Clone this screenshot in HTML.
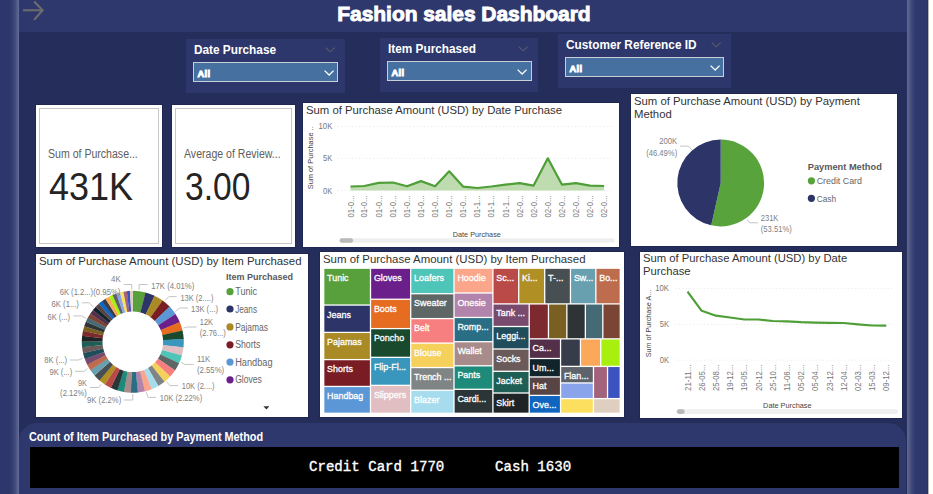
<!DOCTYPE html>
<html><head><meta charset="utf-8">
<style>
*{margin:0;padding:0;box-sizing:border-box}
html,body{width:933px;height:494px;overflow:hidden}
body{background:#252d5b;position:relative;font-family:"Liberation Sans",sans-serif}
.a{position:absolute}
.t{position:absolute;white-space:pre;line-height:1;transform-origin:0 0}
#lstrip{left:0;top:0;width:19px;height:494px;background:linear-gradient(90deg,#2d376b 0,#2d376b 9px,#343e71 12px,#414a7a 15px,#5b6491 18px,#66709a 19px)}
#rstrip{left:907px;top:0;width:21px;height:494px;background:linear-gradient(90deg,#5e6792 0,#58618e 1.5px,#4a5381 3px,#3e477a 5px,#343e71 7px,#2f396c 9px,#2e386c 11px,#2e386c 20.3px,#20275a 20.8px)}
#wstrip{left:928px;top:0;width:5px;height:494px;background:linear-gradient(90deg,#a9a79f 0,#c9c7bf 1px,#fff 1.5px)}
#header{left:19px;top:0;width:888px;height:32px;background:#2e386d}
.slicer{background:#2e376b}
.slt{color:#fff;font-weight:700;font-size:13px;transform:scaleX(.908)}
.dd{background:#46709f;border:1.5px solid #c9cfd8}
.dd span{position:absolute;left:3.5px;top:5.6px;color:#fff;font-weight:700;font-size:9.3px;letter-spacing:0.3px;-webkit-text-stroke:0.9px #fff;font-family:"Liberation Sans",sans-serif}
.card{background:#fff;box-shadow:0 0 0 1px rgba(18,22,64,.3)}
.vt{color:#333;font-size:11.5px;transform:scaleX(.98)}
#bottom{left:19px;top:423px;width:887px;height:80px;background:#2e386d;border-radius:18px 18px 0 0}
#blk{left:29.5px;top:446.5px;width:869px;height:41px;background:#000}
.ax{font-family:"Liberation Sans",sans-serif;font-size:8.5px;fill:#777}
.dl{font-family:"Liberation Sans",sans-serif;font-size:8.5px;fill:#808080}
.lg{font-family:"Liberation Sans",sans-serif;font-size:9px;fill:#666}
.lgt{font-family:"Liberation Sans",sans-serif;font-size:9px;font-weight:700;fill:#595959}
.lg2{font-family:"Liberation Sans",sans-serif;font-size:10px;fill:#666}
.tm{font-family:"Liberation Sans",sans-serif;font-size:9.5px;fill:#fff;stroke:#fff;stroke-width:0.3px}
.axt{font-family:"Liberation Sans",sans-serif;font-size:8px;fill:#444}
</style></head><body>
<div id="lstrip" class="a"></div>
<div id="header" class="a"></div>
<div id="rstrip" class="a"></div>
<div id="wstrip" class="a"></div>

<svg class="a" style="left:22px;top:0" width="24" height="24" viewBox="0 0 24 24"><path d="M1 10.2H20.4M12.1 1.6L20.6 10.2L12.1 19.9" fill="none" stroke="#6c6c6c" stroke-width="2.1"/></svg>

<div class="t" style="left:337.3px;top:3px;color:#fff;font-weight:700;font-size:21px;-webkit-text-stroke:0.9px #fff;letter-spacing:-0.05px">Fashion sales Dashboard</div>

<!-- slicers -->
<div class="a slicer" style="left:186px;top:39px;width:159px;height:54px"></div>
<div class="t slt" style="left:194.4px;top:43px">Date Purchase</div>
<div class="a dd" style="left:193px;top:62px;width:145px;height:20px"><span>All</span></div>

<div class="a slicer" style="left:380px;top:38px;width:158px;height:54px"></div>
<div class="t slt" style="left:388.2px;top:42px">Item Purchased</div>
<div class="a dd" style="left:387px;top:61px;width:145px;height:20px"><span>All</span></div>

<div class="a slicer" style="left:558px;top:34px;width:173px;height:54px"></div>
<div class="t slt" style="left:566.4px;top:37.9px">Customer Reference ID</div>
<div class="a dd" style="left:565px;top:57px;width:159px;height:20px"><span>All</span></div>

<svg class="a" style="left:325px;top:46.5px" width="11" height="7" viewBox="0 0 11 7"><path d="M0.7 0.7L5.2 4.8L9.7 0.7" fill="none" stroke="#5b5b6c" stroke-width="1.1"/></svg>
<svg class="a" style="left:323.9px;top:69.7px" width="11" height="7" viewBox="0 0 11 7"><path d="M0.6 0.6L5.1 5L9.6 0.6" fill="none" stroke="#ffffff" stroke-width="1.3"/></svg>
<svg class="a" style="left:518px;top:46px" width="11" height="7" viewBox="0 0 11 7"><path d="M0.7 0.7L5.2 4.8L9.7 0.7" fill="none" stroke="#5b5b6c" stroke-width="1.1"/></svg>
<svg class="a" style="left:517.1px;top:69.0px" width="11" height="7" viewBox="0 0 11 7"><path d="M0.6 0.6L5.1 5L9.6 0.6" fill="none" stroke="#ffffff" stroke-width="1.3"/></svg>
<svg class="a" style="left:711.3px;top:41.8px" width="11" height="7" viewBox="0 0 11 7"><path d="M0.7 0.7L5.2 4.8L9.7 0.7" fill="none" stroke="#5b5b6c" stroke-width="1.1"/></svg>
<svg class="a" style="left:709.8px;top:65.1px" width="11" height="7" viewBox="0 0 11 7"><path d="M0.6 0.6L5.1 5L9.6 0.6" fill="none" stroke="#ffffff" stroke-width="1.3"/></svg>
<!-- KPI cards -->
<div class="a card" style="left:36px;top:105px;width:126px;height:142px"><div class="a" style="left:3.4px;top:3.4px;right:3.4px;bottom:3.4px;border:1px solid #c6c6c6"></div></div>
<div class="a card" style="left:172px;top:105px;width:123px;height:142px"><div class="a" style="left:3.4px;top:3.4px;right:3.4px;bottom:3.4px;border:1px solid #c6c6c6"></div></div>
<div class="t" style="left:48px;top:147.5px;color:#605e5c;font-size:12px;transform:scaleX(.88)">Sum of Purchase...</div>
<div class="t" style="left:184px;top:147.5px;color:#605e5c;font-size:12px;transform:scaleX(.88)">Average of Review...</div>
<div class="t" style="left:48.5px;top:167px;color:#252423;font-size:39.5px;transform:scaleX(.91)">431K</div>
<div class="t" style="left:184.5px;top:167px;color:#252423;font-size:39.5px;transform:scaleX(.85)">3.00</div>

<!-- line chart -->
<div class="a card" style="left:303px;top:102.7px;width:316px;height:144px"></div>
<div class="t vt" style="left:306.2px;top:104.8px;transform:scaleX(.984)">Sum of Purchase Amount (USD) by Date Purchase</div>

<!-- pie -->
<div class="a card" style="left:630.8px;top:93.8px;width:266.3px;height:152px"></div>
<div class="t vt" style="left:633.7px;top:94.6px;line-height:12.9px;transform:scaleX(.984)">Sum of Purchase Amount (USD) by Payment
Method</div>

<!-- donut -->
<div class="a card" style="left:35.7px;top:253.8px;width:272.4px;height:163px"></div>
<div class="t vt" style="left:38.7px;top:255.9px;transform:scaleX(.992)">Sum of Purchase Amount (USD) by Item Purchased</div>

<!-- treemap -->
<div class="a card" style="left:319.9px;top:252.1px;width:304.2px;height:165px"></div>
<div class="t vt" style="left:322.5px;top:253.7px;transform:scaleX(.992)">Sum of Purchase Amount (USD) by Item Purchased</div>

<!-- line 2 -->
<div class="a card" style="left:639.8px;top:252.1px;width:262.2px;height:165.6px"></div>
<div class="t vt" style="left:642.5px;top:252.4px;line-height:12.9px">Sum of Purchase Amount (USD) by Date
Purchase</div>

<svg class="a" style="left:0;top:0" width="933" height="494" viewBox="0 0 933 494">
<g id="lc1">
<line x1="337.5" y1="126.5" x2="614" y2="126.5" stroke="#e2e2e2" stroke-width="0.8" stroke-dasharray="1 2.6"/>
<line x1="337.5" y1="158.3" x2="614" y2="158.3" stroke="#e2e2e2" stroke-width="0.8" stroke-dasharray="1 2.6"/>
<line x1="337.5" y1="190.6" x2="614" y2="190.6" stroke="#e2e2e2" stroke-width="0.8" stroke-dasharray="1 2.6"/>
<polygon points="350.5,190.5 350.5,186.5 364.3,186.0 378.7,182.9 393.0,182.5 407.0,186.3 421.0,181.1 435.1,186.3 449.2,171.3 463.3,186.7 477.3,188.0 491.3,186.5 505.5,184.6 519.6,183.1 533.6,185.6 547.8,158.3 561.9,184.6 575.9,183.1 590.0,185.6 604.1,186.0 604.1,190.5" fill="#bfdcb0"/>
<polyline points="350.5,186.5 364.3,186.0 378.7,182.9 393.0,182.5 407.0,186.3 421.0,181.1 435.1,186.3 449.2,171.3 463.3,186.7 477.3,188.0 491.3,186.5 505.5,184.6 519.6,183.1 533.6,185.6 547.8,158.3 561.9,184.6 575.9,183.1 590.0,185.6 604.1,186.0" fill="none" stroke="#4e9f37" stroke-width="2.2" stroke-linejoin="round"/>
<text x="332.3" y="129.2" text-anchor="end" class="ax" textLength="13.8" lengthAdjust="spacingAndGlyphs">10K</text>
<text x="332.3" y="161.3" text-anchor="end" class="ax" textLength="9.2" lengthAdjust="spacingAndGlyphs">5K</text>
<text x="332.3" y="194.2" text-anchor="end" class="ax" textLength="9.2" lengthAdjust="spacingAndGlyphs">0K</text>
<text transform="translate(313,189.3) rotate(-90)" class="axt" textLength="63" lengthAdjust="spacingAndGlyphs">Sum of Purchase ..</text>
<text transform="translate(353.6,217.6) rotate(-90)" class="ax" textLength="22.2" lengthAdjust="spacingAndGlyphs">01-0...</text>
<text transform="translate(367.4,217.6) rotate(-90)" class="ax" textLength="22.2" lengthAdjust="spacingAndGlyphs">01-0...</text>
<text transform="translate(381.8,217.6) rotate(-90)" class="ax" textLength="22.2" lengthAdjust="spacingAndGlyphs">01-0...</text>
<text transform="translate(396.1,217.6) rotate(-90)" class="ax" textLength="22.2" lengthAdjust="spacingAndGlyphs">01-0...</text>
<text transform="translate(410.1,217.6) rotate(-90)" class="ax" textLength="22.2" lengthAdjust="spacingAndGlyphs">01-0...</text>
<text transform="translate(424.1,217.6) rotate(-90)" class="ax" textLength="22.2" lengthAdjust="spacingAndGlyphs">01-0...</text>
<text transform="translate(438.2,217.6) rotate(-90)" class="ax" textLength="22.2" lengthAdjust="spacingAndGlyphs">01-0...</text>
<text transform="translate(452.3,217.6) rotate(-90)" class="ax" textLength="22.2" lengthAdjust="spacingAndGlyphs">01-0...</text>
<text transform="translate(466.4,217.6) rotate(-90)" class="ax" textLength="22.2" lengthAdjust="spacingAndGlyphs">01-0...</text>
<text transform="translate(480.4,217.6) rotate(-90)" class="ax" textLength="22.2" lengthAdjust="spacingAndGlyphs">01-1...</text>
<text transform="translate(494.4,217.6) rotate(-90)" class="ax" textLength="22.2" lengthAdjust="spacingAndGlyphs">01-1...</text>
<text transform="translate(508.6,217.6) rotate(-90)" class="ax" textLength="22.2" lengthAdjust="spacingAndGlyphs">01-1...</text>
<text transform="translate(522.7,217.6) rotate(-90)" class="ax" textLength="22.2" lengthAdjust="spacingAndGlyphs">02-0...</text>
<text transform="translate(536.7,217.6) rotate(-90)" class="ax" textLength="22.2" lengthAdjust="spacingAndGlyphs">02-0...</text>
<text transform="translate(550.9,217.6) rotate(-90)" class="ax" textLength="22.2" lengthAdjust="spacingAndGlyphs">02-0...</text>
<text transform="translate(565.0,217.6) rotate(-90)" class="ax" textLength="22.2" lengthAdjust="spacingAndGlyphs">02-0...</text>
<text transform="translate(579.0,217.6) rotate(-90)" class="ax" textLength="22.2" lengthAdjust="spacingAndGlyphs">02-0...</text>
<text transform="translate(593.1,217.6) rotate(-90)" class="ax" textLength="22.2" lengthAdjust="spacingAndGlyphs">02-0...</text>
<text transform="translate(607.2,217.6) rotate(-90)" class="ax" textLength="22.2" lengthAdjust="spacingAndGlyphs">02-0...</text>
<text x="452.8" y="236.5" class="axt" textLength="48" lengthAdjust="spacingAndGlyphs">Date Purchase</text>
<rect x="339.6" y="238.3" width="275.2" height="4.4" rx="2.2" fill="#efefef"/>
<rect x="339.6" y="238.3" width="13.5" height="4.4" rx="2.2" fill="#b9b9b9"/>
</g>
<g id="lc2">
<line x1="675.3" y1="288.4" x2="893" y2="288.4" stroke="#e2e2e2" stroke-width="0.8" stroke-dasharray="1 2.6"/>
<line x1="675.3" y1="324.4" x2="893" y2="324.4" stroke="#e2e2e2" stroke-width="0.8" stroke-dasharray="1 2.6"/>
<line x1="675.3" y1="360.2" x2="893" y2="360.2" stroke="#e2e2e2" stroke-width="0.8" stroke-dasharray="1 2.6"/>
<polyline points="687.5,291.7 701.7,310.8 715.9,315.7 730.1,317.5 744.3,319.5 758.5,319.5 772.7,321 786.9,321.3 801.1,322.2 815.3,322.6 829.5,322.8 843.7,323 857.9,324.3 872.1,325.5 886.3,325.7" fill="none" stroke="#4e9f37" stroke-width="2.2" stroke-linejoin="round"/>
<text x="669" y="291.2" text-anchor="end" class="ax" textLength="13.8" lengthAdjust="spacingAndGlyphs">10K</text>
<text x="669" y="327.3" text-anchor="end" class="ax" textLength="9.2" lengthAdjust="spacingAndGlyphs">5K</text>
<text x="669" y="363.3" text-anchor="end" class="ax" textLength="9.2" lengthAdjust="spacingAndGlyphs">0K</text>
<text transform="translate(650.5,357.3) rotate(-90)" class="axt" textLength="67.5" lengthAdjust="spacingAndGlyphs">Sum of Purchase A...</text>
<text transform="translate(690.6,391) rotate(-90)" class="ax" textLength="26.4" lengthAdjust="spacingAndGlyphs">21-11...</text>
<text transform="translate(704.8,391) rotate(-90)" class="ax" textLength="26.4" lengthAdjust="spacingAndGlyphs">26-05...</text>
<text transform="translate(719.0,391) rotate(-90)" class="ax" textLength="26.4" lengthAdjust="spacingAndGlyphs">25-08...</text>
<text transform="translate(733.2,391) rotate(-90)" class="ax" textLength="26.4" lengthAdjust="spacingAndGlyphs">19-12...</text>
<text transform="translate(747.4,391) rotate(-90)" class="ax" textLength="26.4" lengthAdjust="spacingAndGlyphs">19-05...</text>
<text transform="translate(761.6,391) rotate(-90)" class="ax" textLength="26.4" lengthAdjust="spacingAndGlyphs">20-12...</text>
<text transform="translate(775.8,391) rotate(-90)" class="ax" textLength="26.4" lengthAdjust="spacingAndGlyphs">25-10...</text>
<text transform="translate(790.0,391) rotate(-90)" class="ax" textLength="26.4" lengthAdjust="spacingAndGlyphs">11-06...</text>
<text transform="translate(804.2,391) rotate(-90)" class="ax" textLength="26.4" lengthAdjust="spacingAndGlyphs">05-02...</text>
<text transform="translate(818.4,391) rotate(-90)" class="ax" textLength="26.4" lengthAdjust="spacingAndGlyphs">05-04...</text>
<text transform="translate(832.6,391) rotate(-90)" class="ax" textLength="26.4" lengthAdjust="spacingAndGlyphs">23-12...</text>
<text transform="translate(846.8,391) rotate(-90)" class="ax" textLength="26.4" lengthAdjust="spacingAndGlyphs">12-04...</text>
<text transform="translate(861.0,391) rotate(-90)" class="ax" textLength="26.4" lengthAdjust="spacingAndGlyphs">02-03...</text>
<text transform="translate(875.2,391) rotate(-90)" class="ax" textLength="26.4" lengthAdjust="spacingAndGlyphs">15-03...</text>
<text transform="translate(889.4,391) rotate(-90)" class="ax" textLength="26.4" lengthAdjust="spacingAndGlyphs">09-12...</text>
<text x="763.1" y="408" class="axt" textLength="48.4" lengthAdjust="spacingAndGlyphs">Date Purchase</text>
<rect x="676.7" y="409.3" width="221.3" height="4.6" rx="2.3" fill="#efefef"/>
<rect x="676.7" y="409.3" width="8" height="4.6" rx="2.3" fill="#b9b9b9"/>
</g>
<g id="donut">
<path d="M132.80,290.80A51,51 0 0 1 145.70,292.46L140.47,312.49A30.3,30.3 0 0 0 132.80,311.50Z" fill="#58a03b"/>
<path d="M145.51,292.41A51,51 0 0 1 154.65,295.72L145.78,314.42A30.3,30.3 0 0 0 140.35,312.46Z" fill="#2c3468"/>
<path d="M154.46,295.63A51,51 0 0 1 162.78,300.55L150.61,317.29A30.3,30.3 0 0 0 145.67,314.37Z" fill="#a98a25"/>
<path d="M162.62,300.43A51,51 0 0 1 169.81,306.71L154.79,320.95A30.3,30.3 0 0 0 150.52,317.22Z" fill="#7a1c24"/>
<path d="M169.67,306.56A51,51 0 0 1 175.59,314.05L158.22,325.31A30.3,30.3 0 0 0 154.70,320.86Z" fill="#5b97d6"/>
<path d="M175.48,313.88A51,51 0 0 1 179.91,322.26L160.79,330.19A30.3,30.3 0 0 0 158.16,325.21Z" fill="#6a1f8a"/>
<path d="M179.83,322.07A51,51 0 0 1 182.56,330.63L162.36,335.16A30.3,30.3 0 0 0 160.74,330.08Z" fill="#e66c21"/>
<path d="M182.52,330.43A51,51 0 0 1 183.73,339.14L163.06,340.22A30.3,30.3 0 0 0 162.34,335.04Z" fill="#194a2e"/>
<path d="M183.72,338.94A51,51 0 0 1 183.48,347.51L162.91,345.19A30.3,30.3 0 0 0 163.05,340.10Z" fill="#3996bd"/>
<path d="M183.50,347.31A51,51 0 0 1 181.87,355.71L161.95,350.06A30.3,30.3 0 0 0 162.92,345.07Z" fill="#e0bec2"/>
<path d="M181.92,355.51A51,51 0 0 1 179.00,363.40L160.25,354.64A30.3,30.3 0 0 0 161.98,349.95Z" fill="#4fc4b8"/>
<path d="M179.08,363.22A51,51 0 0 1 175.04,370.38L157.90,358.78A30.3,30.3 0 0 0 160.30,354.53Z" fill="#5e6666"/>
<path d="M175.15,370.21A51,51 0 0 1 170.13,376.55L154.98,362.45A30.3,30.3 0 0 0 157.96,358.68Z" fill="#f77f7f"/>
<path d="M170.27,376.40A51,51 0 0 1 164.33,381.88L151.53,365.61A30.3,30.3 0 0 0 155.06,362.36Z" fill="#f5d05a"/>
<path d="M164.49,381.76A51,51 0 0 1 158.27,385.98L147.93,368.05A30.3,30.3 0 0 0 151.63,365.54Z" fill="#7f8585"/>
<path d="M158.45,385.88A51,51 0 0 1 151.59,389.21L143.96,369.97A30.3,30.3 0 0 0 148.04,367.99Z" fill="#a6dcee"/>
<path d="M151.78,389.14A51,51 0 0 1 144.75,391.38L139.90,371.26A30.3,30.3 0 0 0 144.08,369.92Z" fill="#fba68a"/>
<path d="M144.95,391.33A51,51 0 0 1 137.77,392.56L135.75,371.96A30.3,30.3 0 0 0 140.02,371.23Z" fill="#b283ab"/>
<path d="M137.97,392.54A51,51 0 0 1 130.75,392.76L131.58,372.08A30.3,30.3 0 0 0 135.87,371.94Z" fill="#2a6e85"/>
<path d="M130.96,392.77A51,51 0 0 1 123.82,392.00L127.47,371.63A30.3,30.3 0 0 0 131.71,372.08Z" fill="#a88b8b"/>
<path d="M124.02,392.04A51,51 0 0 1 117.22,390.36L123.54,370.65A30.3,30.3 0 0 0 127.58,371.65Z" fill="#1e8a7a"/>
<path d="M117.41,390.42A51,51 0 0 1 110.77,387.79L119.71,369.13A30.3,30.3 0 0 0 123.66,370.69Z" fill="#2b3538"/>
<path d="M110.95,387.88A51,51 0 0 1 104.80,384.43L116.16,367.12A30.3,30.3 0 0 0 119.82,369.18Z" fill="#b94a48"/>
<path d="M104.97,384.54A51,51 0 0 1 99.30,380.25L112.90,364.64A30.3,30.3 0 0 0 116.27,367.19Z" fill="#b08f25"/>
<path d="M99.45,380.39A51,51 0 0 1 94.45,375.42L110.02,361.78A30.3,30.3 0 0 0 112.99,364.72Z" fill="#484f52"/>
<path d="M94.59,375.58A51,51 0 0 1 90.35,370.07L107.58,358.59A30.3,30.3 0 0 0 110.10,361.87Z" fill="#68a0b0"/>
<path d="M90.46,370.24A51,51 0 0 1 87.10,364.44L105.65,355.25A30.3,30.3 0 0 0 107.65,358.69Z" fill="#bd6d4d"/>
<path d="M87.19,364.63A51,51 0 0 1 84.72,358.82L104.24,351.91A30.3,30.3 0 0 0 105.70,355.36Z" fill="#784b6e"/>
<path d="M84.79,359.01A51,51 0 0 1 83.04,352.98L103.24,348.44A30.3,30.3 0 0 0 104.28,352.03Z" fill="#1f4d5c"/>
<path d="M83.09,353.18A51,51 0 0 1 82.07,347.04L102.66,344.91A30.3,30.3 0 0 0 103.26,348.56Z" fill="#6b5a5a"/>
<path d="M82.09,347.24A51,51 0 0 1 81.80,341.18L102.50,341.43A30.3,30.3 0 0 0 102.67,345.03Z" fill="#1f5e55"/>
<path d="M81.80,341.38A51,51 0 0 1 82.17,335.71L102.72,338.18A30.3,30.3 0 0 0 102.50,341.55Z" fill="#1f2426"/>
<path d="M82.14,335.91A51,51 0 0 1 83.01,330.77L103.22,335.25A30.3,30.3 0 0 0 102.70,338.30Z" fill="#7d2a2e"/>
<path d="M82.96,330.97A51,51 0 0 1 84.26,326.15L103.96,332.50A30.3,30.3 0 0 0 103.19,335.37Z" fill="#7a6020"/>
<path d="M84.20,326.35A51,51 0 0 1 85.95,321.65L104.97,329.83A30.3,30.3 0 0 0 103.92,332.62Z" fill="#2e3336"/>
<path d="M85.87,321.83A51,51 0 0 1 87.93,317.56L106.14,327.40A30.3,30.3 0 0 0 104.92,329.94Z" fill="#466a75"/>
<path d="M87.83,317.74A51,51 0 0 1 90.27,313.66L107.53,325.08A30.3,30.3 0 0 0 106.08,327.51Z" fill="#7a4535"/>
<path d="M90.16,313.83A51,51 0 0 1 92.97,309.95L109.14,322.88A30.3,30.3 0 0 0 107.47,325.18Z" fill="#532f4a"/>
<path d="M92.84,310.11A51,51 0 0 1 95.80,306.70L110.82,320.95A30.3,30.3 0 0 0 109.06,322.97Z" fill="#12242b"/>
<path d="M95.66,306.85A51,51 0 0 1 98.89,303.71L112.65,319.17A30.3,30.3 0 0 0 110.73,321.04Z" fill="#584444"/>
<path d="M98.74,303.84A51,51 0 0 1 102.12,301.06L114.57,317.60A30.3,30.3 0 0 0 112.56,319.25Z" fill="#0f65c0"/>
<path d="M101.96,301.18A51,51 0 0 1 105.48,298.74L116.57,316.22A30.3,30.3 0 0 0 114.48,317.67Z" fill="#363c4a"/>
<path d="M105.30,298.85A51,51 0 0 1 109.07,296.66L118.70,314.98A30.3,30.3 0 0 0 116.46,316.28Z" fill="#fba85a"/>
<path d="M108.89,296.75A51,51 0 0 1 112.70,294.93L120.86,313.95A30.3,30.3 0 0 0 118.59,315.04Z" fill="#a8ef10"/>
<path d="M112.51,295.01A51,51 0 0 1 116.48,293.48L123.11,313.09A30.3,30.3 0 0 0 120.75,314.00Z" fill="#5e636b"/>
<path d="M116.29,293.55A51,51 0 0 1 120.16,292.39L125.29,312.45A30.3,30.3 0 0 0 122.99,313.13Z" fill="#8aa4ec"/>
<path d="M119.96,292.44A51,51 0 0 1 123.68,291.62L127.38,311.99A30.3,30.3 0 0 0 125.17,312.48Z" fill="#fcdf5f"/>
<path d="M123.48,291.66A51,51 0 0 1 127.02,291.13L129.37,311.70A30.3,30.3 0 0 0 127.26,312.01Z" fill="#a3637a"/>
<path d="M126.82,291.15A51,51 0 0 1 130.07,290.87L131.18,311.54A30.3,30.3 0 0 0 129.25,311.71Z" fill="#3a53c0"/>
<path d="M129.86,290.88A51,51 0 0 1 133.00,290.80L132.92,311.50A30.3,30.3 0 0 0 131.05,311.55Z" fill="#dfcfc0"/>
<polyline points="123.7,284.5 131.8,284.5 131.8,289.6" fill="none" stroke="#bdbdbd" stroke-width="0.9"/>
<polyline points="105.3,292.3 107.3,295.8" fill="none" stroke="#bdbdbd" stroke-width="0.9"/>
<polyline points="81.9,302.8 89.2,302.8 93.5,307" fill="none" stroke="#bdbdbd" stroke-width="0.9"/>
<polyline points="73.4,315.9 81.9,315.9 86.2,318.6" fill="none" stroke="#bdbdbd" stroke-width="0.9"/>
<polyline points="69.9,360 78.5,360 82.5,358.3" fill="none" stroke="#bdbdbd" stroke-width="0.9"/>
<polyline points="74.9,371.3 84.2,371.3 87.4,368.6" fill="none" stroke="#bdbdbd" stroke-width="0.9"/>
<polyline points="89.8,387.5 98.7,387.5 101.2,384.3" fill="none" stroke="#bdbdbd" stroke-width="0.9"/>
<polyline points="123.9,400 132.8,400 132.8,394" fill="none" stroke="#bdbdbd" stroke-width="0.9"/>
<polyline points="146.2,392.2 148.1,397.4 156.1,397.4" fill="none" stroke="#bdbdbd" stroke-width="0.9"/>
<polyline points="166.8,381.8 169.9,385.6 178.1,385.6" fill="none" stroke="#bdbdbd" stroke-width="0.9"/>
<polyline points="181.2,362.4 184.5,364.4 193.7,364.4" fill="none" stroke="#bdbdbd" stroke-width="0.9"/>
<polyline points="183.5,328.1 186.6,327 196.5,327" fill="none" stroke="#bdbdbd" stroke-width="0.9"/>
<polyline points="175.3,311.4 179.5,308 188,308" fill="none" stroke="#bdbdbd" stroke-width="0.9"/>
<polyline points="165.1,300.5 168.9,296.6 176.7,296.6" fill="none" stroke="#bdbdbd" stroke-width="0.9"/>
<polyline points="139.1,289.8 139.1,284.5 147.6,284.5" fill="none" stroke="#bdbdbd" stroke-width="0.9"/>
<text x="111.10000000000001" y="282.3" class="dl" textLength="9.6" lengthAdjust="spacingAndGlyphs">4K</text>
<text x="59.7" y="294.7" class="dl" textLength="33.4" lengthAdjust="spacingAndGlyphs">6K (1.2...)</text>
<text x="93.3" y="294.7" class="dl" textLength="27.1" lengthAdjust="spacingAndGlyphs">(0.95%)</text>
<text x="51.6" y="306.5" class="dl" textLength="27.3" lengthAdjust="spacingAndGlyphs">6K (1...)</text>
<text x="47.6" y="319.6" class="dl" textLength="22.5" lengthAdjust="spacingAndGlyphs">6K (...)</text>
<text x="44.2" y="362.9" class="dl" textLength="22.9" lengthAdjust="spacingAndGlyphs">8K (...)</text>
<text x="49.400000000000006" y="374.5" class="dl" textLength="22.9" lengthAdjust="spacingAndGlyphs">9K (...)</text>
<text x="77.9" y="385.9" class="dl" textLength="9.0" lengthAdjust="spacingAndGlyphs">9K</text>
<text x="60.1" y="396.4" class="dl" textLength="26.8" lengthAdjust="spacingAndGlyphs">(2.12%)</text>
<text x="87.10000000000001" y="402.6" class="dl" textLength="34.1" lengthAdjust="spacingAndGlyphs">9K (2.2%)</text>
<text x="159.7" y="401" class="dl" textLength="42.5" lengthAdjust="spacingAndGlyphs">10K (2.22%)</text>
<text x="181.79999999999998" y="388.9" class="dl" textLength="32.8" lengthAdjust="spacingAndGlyphs">10K (2....)</text>
<text x="197.0" y="362" class="dl" textLength="13.3" lengthAdjust="spacingAndGlyphs">11K</text>
<text x="197.0" y="372.9" class="dl" textLength="27.1" lengthAdjust="spacingAndGlyphs">(2.55%)</text>
<text x="199.79999999999998" y="325" class="dl" textLength="13.3" lengthAdjust="spacingAndGlyphs">12K</text>
<text x="199.79999999999998" y="335.6" class="dl" textLength="26.1" lengthAdjust="spacingAndGlyphs">(2.76...)</text>
<text x="190.89999999999998" y="312.2" class="dl" textLength="27.2" lengthAdjust="spacingAndGlyphs">13K (...)</text>
<text x="180.39999999999998" y="300.9" class="dl" textLength="33.0" lengthAdjust="spacingAndGlyphs">13K (2....)</text>
<text x="151.2" y="288.9" class="dl" textLength="43.1" lengthAdjust="spacingAndGlyphs">17K (4.01%)</text>
<text x="226" y="280.2" class="lgt" textLength="67" lengthAdjust="spacingAndGlyphs">Item Purchased</text>
<circle cx="230" cy="291.7" r="3.6" fill="#58a03b"/>
<text x="235.2" y="295.3" class="lg2" textLength="21.8" lengthAdjust="spacingAndGlyphs">Tunic</text>
<circle cx="230" cy="309" r="3.6" fill="#2c3468"/>
<text x="235.2" y="312.6" class="lg2" textLength="21.8" lengthAdjust="spacingAndGlyphs">Jeans</text>
<circle cx="230" cy="326.9" r="3.6" fill="#a98a25"/>
<text x="235.2" y="330.5" class="lg2" textLength="32.8" lengthAdjust="spacingAndGlyphs">Pajamas</text>
<circle cx="230" cy="344.8" r="3.6" fill="#7a1c24"/>
<text x="235.2" y="348.4" class="lg2" textLength="25.2" lengthAdjust="spacingAndGlyphs">Shorts</text>
<circle cx="230" cy="362.1" r="3.6" fill="#5b97d6"/>
<text x="235.2" y="365.7" class="lg2" textLength="37.3" lengthAdjust="spacingAndGlyphs">Handbag</text>
<circle cx="230" cy="379.8" r="3.6" fill="#6a1f8a"/>
<text x="235.2" y="383.4" class="lg2" textLength="26.7" lengthAdjust="spacingAndGlyphs">Gloves</text>
<path d="M263.4,406.2L269.4,406.2L266.4,409.6Z" fill="#333"/>
</g>
<g id="tree">
<rect x="324.35" y="268.85" width="45.50" height="35.55" fill="#58a03b"/>
<rect x="324.35" y="305.70" width="45.50" height="26.05" fill="#2c3468"/>
<rect x="324.35" y="333.05" width="45.50" height="25.90" fill="#a98a25"/>
<rect x="324.35" y="360.25" width="45.50" height="25.55" fill="#7a1c24"/>
<rect x="324.35" y="387.10" width="45.50" height="25.55" fill="#5b97d6"/>
<rect x="371.15" y="268.85" width="38.90" height="29.75" fill="#6a1f8a"/>
<rect x="371.15" y="299.90" width="38.90" height="28.05" fill="#e66c21"/>
<rect x="371.15" y="329.25" width="38.90" height="27.45" fill="#194a2e"/>
<rect x="371.15" y="358.00" width="38.90" height="26.70" fill="#3996bd"/>
<rect x="371.15" y="386.00" width="38.90" height="26.65" fill="#e0bec2"/>
<rect x="411.35" y="268.85" width="42.00" height="24.20" fill="#4fc4b8"/>
<rect x="411.35" y="294.35" width="42.00" height="23.60" fill="#5e6666"/>
<rect x="411.35" y="319.25" width="42.00" height="23.20" fill="#f77f7f"/>
<rect x="411.35" y="343.75" width="42.00" height="23.15" fill="#f5d05a"/>
<rect x="411.35" y="368.20" width="42.00" height="21.40" fill="#7f8585"/>
<rect x="411.35" y="390.90" width="42.00" height="21.75" fill="#a6dcee"/>
<rect x="454.65" y="268.85" width="37.60" height="23.50" fill="#fba68a"/>
<rect x="454.65" y="293.65" width="37.60" height="23.15" fill="#b283ab"/>
<rect x="454.65" y="318.10" width="37.60" height="22.95" fill="#2a6e85"/>
<rect x="454.65" y="342.35" width="37.60" height="22.80" fill="#a88b8b"/>
<rect x="454.65" y="366.45" width="37.60" height="22.20" fill="#1e8a7a"/>
<rect x="454.65" y="389.95" width="37.60" height="22.70" fill="#2b3538"/>
<rect x="493.55" y="268.85" width="24.50" height="34.40" fill="#b94a48"/>
<rect x="519.35" y="268.85" width="24.70" height="34.40" fill="#b08f25"/>
<rect x="545.35" y="268.85" width="24.45" height="34.40" fill="#484f52"/>
<rect x="571.10" y="268.85" width="24.10" height="34.40" fill="#68a0b0"/>
<rect x="596.50" y="268.85" width="23.15" height="34.40" fill="#bd6d4d"/>
<rect x="493.55" y="304.55" width="35.00" height="21.30" fill="#784b6e"/>
<rect x="493.55" y="327.15" width="35.00" height="21.20" fill="#1f4d5c"/>
<rect x="493.55" y="349.65" width="35.00" height="21.00" fill="#6b5a5a"/>
<rect x="493.55" y="371.95" width="35.00" height="20.40" fill="#1f5e55"/>
<rect x="493.55" y="393.65" width="35.00" height="19.00" fill="#1f2426"/>
<rect x="529.85" y="304.55" width="17.95" height="33.65" fill="#7d2a2e"/>
<rect x="549.10" y="304.55" width="17.10" height="33.65" fill="#7a6020"/>
<rect x="567.50" y="304.55" width="17.20" height="33.65" fill="#2e3336"/>
<rect x="586.00" y="304.55" width="16.15" height="33.65" fill="#466a75"/>
<rect x="603.45" y="304.55" width="16.20" height="33.65" fill="#7a4535"/>
<rect x="529.85" y="339.50" width="30.05" height="18.35" fill="#532f4a"/>
<rect x="529.85" y="359.15" width="30.05" height="17.15" fill="#12242b"/>
<rect x="529.85" y="377.60" width="30.05" height="17.15" fill="#584444"/>
<rect x="529.85" y="396.05" width="30.05" height="16.60" fill="#0f65c0"/>
<rect x="561.20" y="339.50" width="18.60" height="26.25" fill="#363c4a"/>
<rect x="581.10" y="339.50" width="18.95" height="26.25" fill="#fba85a"/>
<rect x="601.35" y="339.50" width="18.30" height="26.25" fill="#a8ef10"/>
<rect x="561.20" y="367.05" width="31.60" height="15.25" fill="#5e636b"/>
<rect x="561.20" y="383.60" width="31.60" height="14.35" fill="#8aa4ec"/>
<rect x="561.20" y="399.25" width="31.60" height="13.40" fill="#fcdf5f"/>
<rect x="594.10" y="367.05" width="12.80" height="30.90" fill="#a3637a"/>
<rect x="608.20" y="367.05" width="11.45" height="30.90" fill="#3a53c0"/>
<rect x="594.10" y="399.25" width="25.55" height="13.40" fill="#dfcfc0"/>
<text transform="translate(327.1,280.7) scale(0.94,1)" class="tm">Tunic</text>
<text transform="translate(327.1,317.6) scale(0.94,1)" class="tm">Jeans</text>
<text transform="translate(327.1,344.9) scale(0.94,1)" class="tm">Pajamas</text>
<text transform="translate(327.1,372.1) scale(0.94,1)" class="tm">Shorts</text>
<text transform="translate(327.1,398.9) scale(0.94,1)" class="tm">Handbag</text>
<text transform="translate(373.9,280.7) scale(0.94,1)" class="tm">Gloves</text>
<text transform="translate(373.9,311.8) scale(0.94,1)" class="tm">Boots</text>
<text transform="translate(373.9,341.1) scale(0.94,1)" class="tm">Poncho</text>
<text transform="translate(373.9,369.9) scale(0.94,1)" class="tm">Flip-Fl...</text>
<text transform="translate(373.9,397.9) scale(0.94,1)" class="tm">Slippers</text>
<text transform="translate(414.1,280.7) scale(0.94,1)" class="tm">Loafers</text>
<text transform="translate(414.1,306.2) scale(0.94,1)" class="tm">Sweater</text>
<text transform="translate(414.1,331.1) scale(0.94,1)" class="tm">Belt</text>
<text transform="translate(414.1,355.6) scale(0.94,1)" class="tm">Blouse</text>
<text transform="translate(414.1,380.1) scale(0.94,1)" class="tm">Trench ...</text>
<text transform="translate(414.1,402.8) scale(0.94,1)" class="tm">Blazer</text>
<text transform="translate(457.4,280.7) scale(0.94,1)" class="tm">Hoodie</text>
<text transform="translate(457.4,305.5) scale(0.94,1)" class="tm">Onesie</text>
<text transform="translate(457.4,329.9) scale(0.94,1)" class="tm">Romp...</text>
<text transform="translate(457.4,354.2) scale(0.94,1)" class="tm">Wallet</text>
<text transform="translate(457.4,378.3) scale(0.94,1)" class="tm">Pants</text>
<text transform="translate(457.4,401.8) scale(0.94,1)" class="tm">Cardi...</text>
<text transform="translate(496.3,280.7) scale(0.94,1)" class="tm">Sc...</text>
<text transform="translate(522.1,280.7) scale(0.94,1)" class="tm">Ki...</text>
<text transform="translate(548.1,280.7) scale(0.94,1)" class="tm">T-...</text>
<text transform="translate(573.9,280.7) scale(0.94,1)" class="tm">Sw...</text>
<text transform="translate(599.2,280.7) scale(0.94,1)" class="tm">Bo...</text>
<text transform="translate(496.3,316.4) scale(0.94,1)" class="tm">Tank ...</text>
<text transform="translate(496.3,339.0) scale(0.94,1)" class="tm">Leggi...</text>
<text transform="translate(496.3,361.5) scale(0.94,1)" class="tm">Socks</text>
<text transform="translate(496.3,383.8) scale(0.94,1)" class="tm">Jacket</text>
<text transform="translate(496.3,405.5) scale(0.94,1)" class="tm">Skirt</text>
<text transform="translate(532.6,351.4) scale(0.94,1)" class="tm">Ca...</text>
<text transform="translate(532.6,371.0) scale(0.94,1)" class="tm">Um...</text>
<text transform="translate(532.6,389.4) scale(0.94,1)" class="tm">Hat</text>
<text transform="translate(532.6,407.9) scale(0.94,1)" class="tm">Ove...</text>
<text transform="translate(563.9,378.9) scale(0.94,1)" class="tm">Flan...</text>
</g>
<g id="pie">
<path d="M720.7,183 L720.7,139.6 A43.4,43.4 0 1 1 711.21,225.35 Z" fill="#58a33c"/>
<path d="M720.7,183 L711.21,225.35 A43.4,43.4 0 0 1 720.7,139.6 Z" fill="#2c3468"/>
<polyline points="680.1,146.1 688.5,146.1 691.8,149.9" fill="none" stroke="#bdbdbd" stroke-width="0.9"/>
<polyline points="747.2,219.3 749.5,222.8 757.9,222.8" fill="none" stroke="#bdbdbd" stroke-width="0.9"/>
<text x="677.2" y="143.7" text-anchor="end" class="dl" textLength="18" lengthAdjust="spacingAndGlyphs">200K</text>
<text x="677.2" y="155.5" text-anchor="end" class="dl" textLength="31" lengthAdjust="spacingAndGlyphs">(46.49%)</text>
<text x="760.8" y="220.9" class="dl" textLength="17.6" lengthAdjust="spacingAndGlyphs">231K</text>
<text x="760.8" y="231.6" class="dl" textLength="31" lengthAdjust="spacingAndGlyphs">(53.51%)</text>
<text x="807.8" y="170" class="lgt" textLength="74" lengthAdjust="spacingAndGlyphs">Payment Method</text>
<circle cx="811.4" cy="180.8" r="3.6" fill="#58a33c"/>
<text x="816.7" y="183.9" class="lg" textLength="45.3" lengthAdjust="spacingAndGlyphs">Credit Card</text>
<circle cx="811.4" cy="198.3" r="3.6" fill="#2c3468"/>
<text x="816.7" y="201.8" class="lg" textLength="19.5" lengthAdjust="spacingAndGlyphs">Cash</text>
</g>
</svg>
<!-- bottom -->
<div id="bottom" class="a"></div>
<div class="t" style="left:28.7px;top:430.6px;color:#fff;font-weight:700;font-size:12px;transform:scaleX(.905)">Count of Item Purchased by Payment Method</div>
<div id="blk" class="a"></div>
<div class="t" style="left:309px;top:459.8px;color:#fff;font-family:'Liberation Mono',monospace;font-size:14.1px;-webkit-text-stroke:0.35px #fff">Credit Card 1770      Cash 1630</div>
</body></html>
